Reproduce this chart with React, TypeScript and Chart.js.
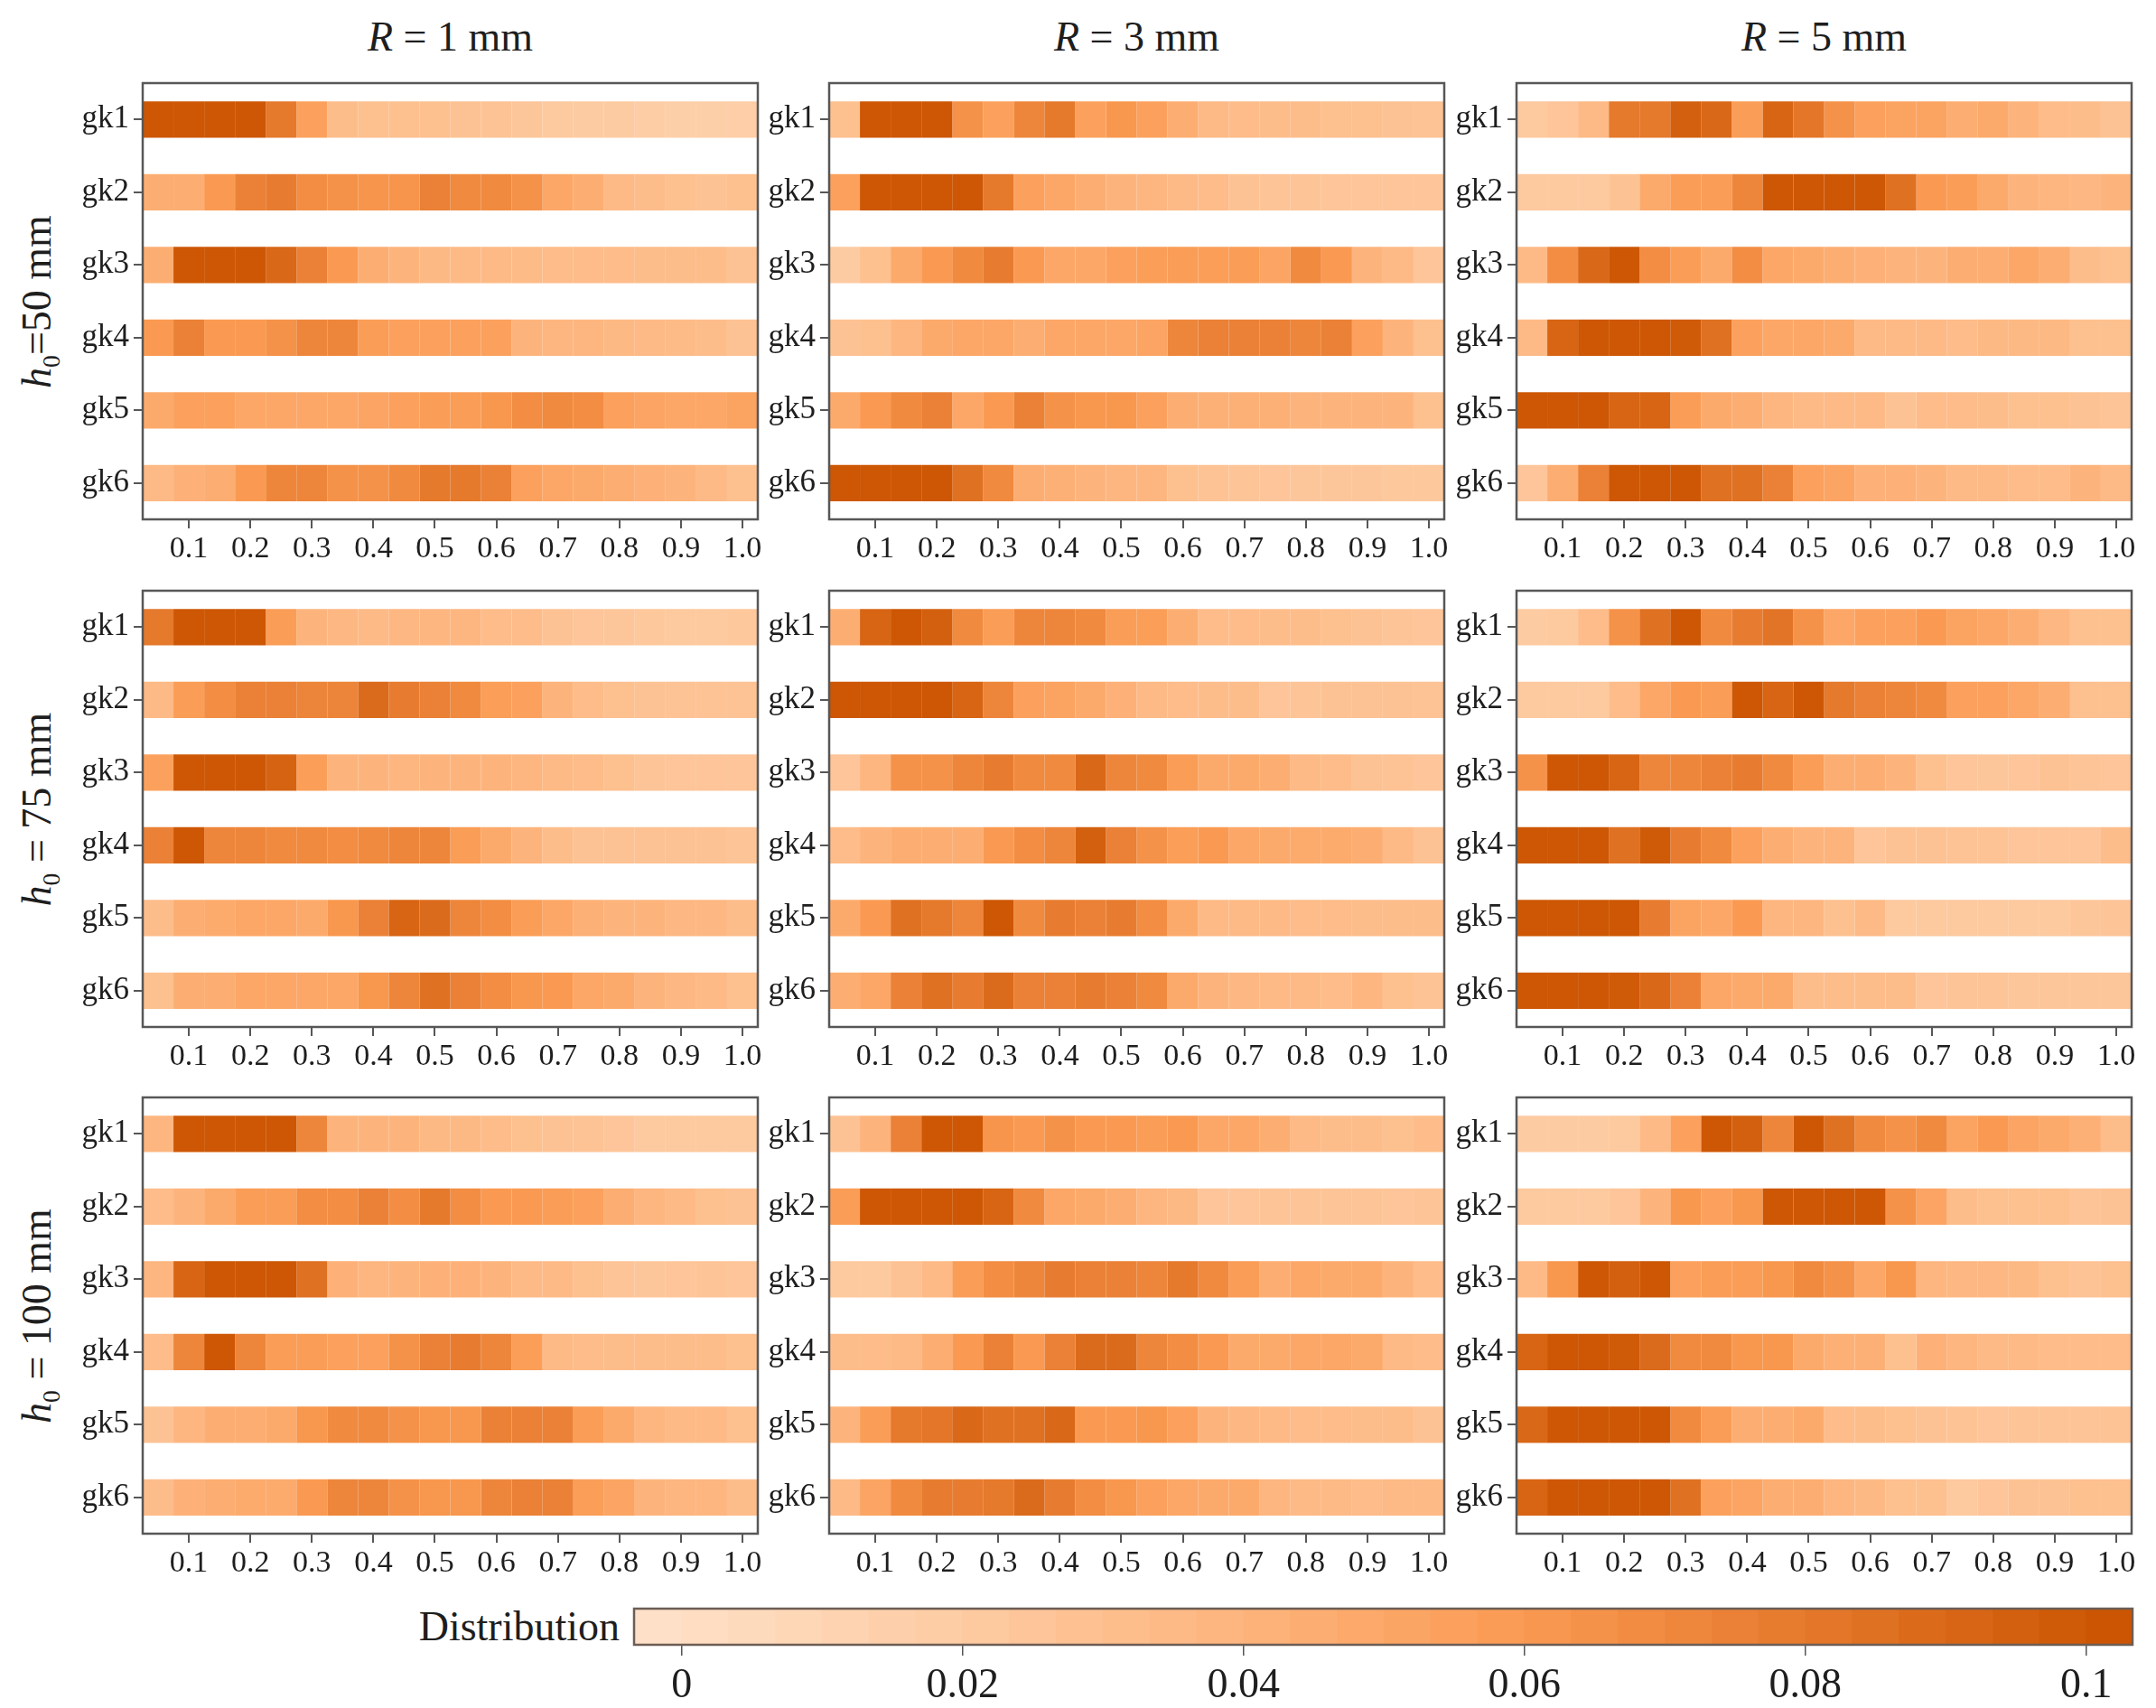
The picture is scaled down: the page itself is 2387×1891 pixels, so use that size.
import { useEffect, useRef } from "react"
import { Chart, registerables, ChartConfiguration, Plugin } from "chart.js"

Chart.register(...registerables)

// bin centres of the normalised position axis
const bins = [0.05, 0.1, 0.15, 0.2, 0.25, 0.3, 0.35, 0.4, 0.45, 0.5, 0.55, 0.6, 0.65, 0.7, 0.75, 0.8, 0.85, 0.9, 0.95, 1.0]
const groups = ["gk1", "gk2", "gk3", "gk4", "gk5", "gk6"]
const xTickLabels = [0.1, 0.2, 0.3, 0.4, 0.5, 0.6, 0.7, 0.8, 0.9, 1.0]
const colorbarTicks = [0, 0.02, 0.04, 0.06, 0.08, 0.1]
const radii = [1, 3, 5]
const heights = [50, 75, 100]

const h50r1 = [
	[0.1, 0.1, 0.1, 0.1, 0.08, 0.055, 0.032, 0.03, 0.03, 0.03, 0.028, 0.027, 0.024, 0.022, 0.02, 0.02, 0.018, 0.016, 0.016, 0.017],
	[0.045, 0.045, 0.06, 0.075, 0.078, 0.068, 0.065, 0.063, 0.063, 0.075, 0.07, 0.07, 0.065, 0.05, 0.045, 0.035, 0.032, 0.03, 0.028, 0.03],
	[0.045, 0.1, 0.1, 0.1, 0.09, 0.075, 0.06, 0.045, 0.04, 0.036, 0.035, 0.035, 0.034, 0.033, 0.033, 0.033, 0.032, 0.032, 0.032, 0.028],
	[0.06, 0.075, 0.06, 0.06, 0.065, 0.072, 0.072, 0.058, 0.055, 0.055, 0.055, 0.055, 0.04, 0.038, 0.038, 0.036, 0.035, 0.034, 0.032, 0.028],
	[0.048, 0.055, 0.055, 0.05, 0.05, 0.05, 0.05, 0.052, 0.055, 0.058, 0.058, 0.062, 0.068, 0.07, 0.068, 0.055, 0.052, 0.05, 0.05, 0.053],
	[0.035, 0.042, 0.045, 0.06, 0.072, 0.072, 0.065, 0.065, 0.07, 0.08, 0.08, 0.075, 0.055, 0.05, 0.048, 0.045, 0.042, 0.04, 0.035, 0.03]
]
const h50r3 = [
	[0.03, 0.1, 0.1, 0.1, 0.065, 0.055, 0.072, 0.08, 0.055, 0.062, 0.055, 0.045, 0.035, 0.033, 0.032, 0.032, 0.03, 0.03, 0.028, 0.027],
	[0.055, 0.1, 0.1, 0.1, 0.1, 0.08, 0.055, 0.05, 0.045, 0.04, 0.038, 0.035, 0.033, 0.028, 0.026, 0.026, 0.025, 0.025, 0.025, 0.025],
	[0.02, 0.03, 0.048, 0.06, 0.07, 0.078, 0.06, 0.05, 0.05, 0.055, 0.057, 0.058, 0.057, 0.058, 0.052, 0.07, 0.06, 0.04, 0.035, 0.025],
	[0.028, 0.03, 0.038, 0.048, 0.05, 0.05, 0.045, 0.05, 0.05, 0.05, 0.052, 0.072, 0.075, 0.075, 0.075, 0.072, 0.075, 0.055, 0.04, 0.03],
	[0.048, 0.06, 0.07, 0.075, 0.05, 0.06, 0.075, 0.065, 0.062, 0.062, 0.055, 0.045, 0.043, 0.043, 0.043, 0.04, 0.04, 0.04, 0.04, 0.03],
	[0.1, 0.1, 0.1, 0.1, 0.085, 0.07, 0.045, 0.043, 0.04, 0.038, 0.038, 0.03, 0.027, 0.026, 0.025, 0.024, 0.024, 0.024, 0.023, 0.023]
]
const h50r5 = [
	[0.022, 0.025, 0.035, 0.08, 0.08, 0.095, 0.09, 0.058, 0.092, 0.082, 0.065, 0.055, 0.053, 0.053, 0.045, 0.048, 0.04, 0.033, 0.032, 0.028],
	[0.022, 0.022, 0.022, 0.028, 0.048, 0.058, 0.058, 0.072, 0.1, 0.1, 0.1, 0.1, 0.085, 0.06, 0.058, 0.048, 0.04, 0.038, 0.037, 0.04],
	[0.035, 0.068, 0.09, 0.1, 0.068, 0.058, 0.048, 0.068, 0.05, 0.048, 0.045, 0.042, 0.04, 0.04, 0.045, 0.045, 0.05, 0.045, 0.032, 0.03],
	[0.035, 0.092, 0.1, 0.1, 0.1, 0.098, 0.085, 0.055, 0.05, 0.05, 0.048, 0.035, 0.035, 0.035, 0.033, 0.036, 0.036, 0.036, 0.03, 0.03],
	[0.1, 0.1, 0.1, 0.092, 0.092, 0.058, 0.048, 0.045, 0.038, 0.035, 0.035, 0.035, 0.028, 0.033, 0.033, 0.032, 0.03, 0.03, 0.028, 0.026],
	[0.025, 0.045, 0.075, 0.1, 0.1, 0.1, 0.085, 0.085, 0.075, 0.055, 0.052, 0.042, 0.042, 0.04, 0.035, 0.035, 0.033, 0.033, 0.04, 0.035]
]
const h75r1 = [
	[0.08, 0.1, 0.1, 0.1, 0.058, 0.04, 0.037, 0.035, 0.037, 0.038, 0.038, 0.033, 0.033, 0.028, 0.025, 0.024, 0.023, 0.022, 0.022, 0.023],
	[0.035, 0.058, 0.068, 0.075, 0.075, 0.073, 0.073, 0.088, 0.078, 0.075, 0.07, 0.057, 0.055, 0.04, 0.033, 0.03, 0.028, 0.027, 0.027, 0.027],
	[0.055, 0.1, 0.1, 0.1, 0.093, 0.057, 0.04, 0.04, 0.038, 0.04, 0.04, 0.04, 0.038, 0.035, 0.033, 0.03, 0.026, 0.025, 0.025, 0.025],
	[0.075, 0.1, 0.072, 0.072, 0.07, 0.07, 0.068, 0.07, 0.072, 0.072, 0.058, 0.048, 0.04, 0.032, 0.028, 0.028, 0.028, 0.028, 0.028, 0.026],
	[0.032, 0.045, 0.047, 0.05, 0.05, 0.048, 0.062, 0.075, 0.092, 0.088, 0.072, 0.068, 0.058, 0.05, 0.043, 0.04, 0.04, 0.037, 0.037, 0.032],
	[0.03, 0.045, 0.045, 0.05, 0.05, 0.05, 0.05, 0.062, 0.072, 0.085, 0.075, 0.068, 0.062, 0.06, 0.05, 0.048, 0.04, 0.037, 0.035, 0.03]
]
const h75r3 = [
	[0.045, 0.092, 0.1, 0.095, 0.07, 0.058, 0.072, 0.072, 0.07, 0.058, 0.057, 0.045, 0.033, 0.033, 0.032, 0.032, 0.03, 0.028, 0.026, 0.025],
	[0.1, 0.1, 0.1, 0.1, 0.092, 0.072, 0.055, 0.053, 0.048, 0.042, 0.035, 0.033, 0.032, 0.032, 0.025, 0.026, 0.028, 0.028, 0.028, 0.027],
	[0.025, 0.038, 0.065, 0.065, 0.072, 0.078, 0.07, 0.07, 0.09, 0.072, 0.07, 0.058, 0.048, 0.048, 0.045, 0.035, 0.033, 0.028, 0.027, 0.025],
	[0.033, 0.04, 0.045, 0.045, 0.045, 0.06, 0.068, 0.072, 0.095, 0.075, 0.065, 0.057, 0.06, 0.05, 0.048, 0.047, 0.047, 0.045, 0.035, 0.028],
	[0.048, 0.06, 0.085, 0.08, 0.072, 0.1, 0.07, 0.078, 0.075, 0.078, 0.068, 0.048, 0.035, 0.035, 0.035, 0.033, 0.033, 0.032, 0.032, 0.032],
	[0.045, 0.05, 0.075, 0.085, 0.078, 0.088, 0.075, 0.075, 0.078, 0.075, 0.07, 0.048, 0.04, 0.037, 0.035, 0.035, 0.033, 0.038, 0.03, 0.027]
]
const h75r5 = [
	[0.02, 0.022, 0.033, 0.065, 0.085, 0.1, 0.07, 0.078, 0.083, 0.065, 0.05, 0.055, 0.055, 0.06, 0.053, 0.05, 0.045, 0.037, 0.03, 0.03],
	[0.022, 0.022, 0.022, 0.033, 0.05, 0.06, 0.058, 0.1, 0.092, 0.1, 0.08, 0.075, 0.072, 0.07, 0.055, 0.055, 0.05, 0.045, 0.03, 0.03],
	[0.065, 0.1, 0.1, 0.092, 0.072, 0.072, 0.075, 0.078, 0.07, 0.058, 0.045, 0.045, 0.04, 0.03, 0.025, 0.024, 0.025, 0.028, 0.026, 0.025],
	[0.1, 0.1, 0.1, 0.085, 0.098, 0.078, 0.07, 0.055, 0.045, 0.04, 0.04, 0.025, 0.028, 0.028, 0.027, 0.027, 0.025, 0.025, 0.025, 0.032],
	[0.1, 0.1, 0.1, 0.1, 0.078, 0.053, 0.05, 0.06, 0.038, 0.038, 0.03, 0.035, 0.022, 0.022, 0.022, 0.022, 0.022, 0.022, 0.024, 0.026],
	[0.1, 0.1, 0.1, 0.098, 0.09, 0.075, 0.05, 0.048, 0.048, 0.032, 0.032, 0.032, 0.032, 0.025, 0.026, 0.026, 0.024, 0.024, 0.024, 0.024]
]
const h100r1 = [
	[0.038, 0.1, 0.1, 0.1, 0.1, 0.072, 0.04, 0.04, 0.04, 0.036, 0.036, 0.033, 0.03, 0.028, 0.027, 0.025, 0.022, 0.022, 0.022, 0.022],
	[0.033, 0.04, 0.048, 0.058, 0.058, 0.068, 0.068, 0.075, 0.068, 0.08, 0.068, 0.06, 0.06, 0.058, 0.055, 0.045, 0.038, 0.035, 0.03, 0.028],
	[0.038, 0.092, 0.1, 0.1, 0.1, 0.085, 0.042, 0.038, 0.04, 0.042, 0.042, 0.04, 0.035, 0.035, 0.03, 0.026, 0.024, 0.025, 0.026, 0.025],
	[0.033, 0.072, 0.1, 0.072, 0.058, 0.058, 0.055, 0.055, 0.065, 0.075, 0.078, 0.072, 0.057, 0.035, 0.033, 0.032, 0.032, 0.032, 0.032, 0.03],
	[0.028, 0.038, 0.045, 0.045, 0.048, 0.062, 0.07, 0.07, 0.065, 0.062, 0.062, 0.075, 0.075, 0.075, 0.058, 0.048, 0.038, 0.035, 0.035, 0.03],
	[0.032, 0.042, 0.045, 0.047, 0.047, 0.06, 0.072, 0.072, 0.065, 0.062, 0.062, 0.072, 0.075, 0.075, 0.057, 0.052, 0.04, 0.038, 0.038, 0.032]
]
const h100r3 = [
	[0.028, 0.04, 0.075, 0.1, 0.1, 0.063, 0.06, 0.065, 0.06, 0.06, 0.058, 0.06, 0.05, 0.05, 0.045, 0.035, 0.032, 0.032, 0.03, 0.033],
	[0.058, 0.1, 0.1, 0.1, 0.1, 0.092, 0.07, 0.05, 0.048, 0.045, 0.038, 0.036, 0.025, 0.025, 0.026, 0.026, 0.026, 0.026, 0.025, 0.026],
	[0.022, 0.022, 0.028, 0.035, 0.058, 0.068, 0.072, 0.078, 0.075, 0.075, 0.072, 0.08, 0.07, 0.058, 0.045, 0.05, 0.048, 0.048, 0.04, 0.033],
	[0.032, 0.033, 0.035, 0.045, 0.06, 0.075, 0.06, 0.075, 0.088, 0.088, 0.072, 0.068, 0.06, 0.048, 0.048, 0.05, 0.05, 0.048, 0.035, 0.033],
	[0.04, 0.058, 0.08, 0.082, 0.09, 0.085, 0.085, 0.09, 0.06, 0.06, 0.062, 0.055, 0.04, 0.037, 0.035, 0.033, 0.033, 0.032, 0.032, 0.028],
	[0.035, 0.052, 0.07, 0.078, 0.078, 0.08, 0.088, 0.078, 0.068, 0.062, 0.055, 0.05, 0.048, 0.048, 0.038, 0.035, 0.035, 0.033, 0.035, 0.035]
]
const h100r5 = [
	[0.02, 0.02, 0.02, 0.022, 0.035, 0.055, 0.1, 0.095, 0.072, 0.1, 0.085, 0.07, 0.065, 0.07, 0.053, 0.06, 0.052, 0.048, 0.043, 0.032],
	[0.022, 0.022, 0.022, 0.025, 0.04, 0.062, 0.055, 0.062, 0.1, 0.1, 0.1, 0.1, 0.065, 0.052, 0.032, 0.03, 0.03, 0.03, 0.026, 0.028],
	[0.035, 0.062, 0.1, 0.095, 0.1, 0.055, 0.058, 0.058, 0.062, 0.07, 0.065, 0.05, 0.062, 0.038, 0.037, 0.037, 0.036, 0.03, 0.027, 0.03],
	[0.092, 0.1, 0.1, 0.098, 0.088, 0.07, 0.07, 0.062, 0.062, 0.048, 0.043, 0.043, 0.03, 0.042, 0.038, 0.035, 0.035, 0.033, 0.033, 0.033],
	[0.09, 0.1, 0.1, 0.1, 0.1, 0.07, 0.058, 0.045, 0.045, 0.048, 0.033, 0.032, 0.03, 0.028, 0.027, 0.025, 0.026, 0.026, 0.026, 0.027],
	[0.092, 0.1, 0.1, 0.1, 0.1, 0.085, 0.055, 0.052, 0.045, 0.045, 0.038, 0.036, 0.03, 0.03, 0.022, 0.025, 0.028, 0.028, 0.03, 0.03]
]

const panelRows = [
	[h50r1, h50r3, h50r5],
	[h75r1, h75r3, h75r5],
	[h100r1, h100r3, h100r5]
]

const FONT = "'Liberation Serif', 'Times New Roman', serif"
const INK = "#1e1e1e"
const FRAME = "#575757"

// colour scale (value -> rgb), light peach to burnt orange
const stops: [number, number[]][] = [
	[-0.0034, [254, 226, 203]],
	[0.02, [253, 203, 162]],
	[0.04, [253, 180, 124]],
	[0.06, [250, 154, 82]],
	[0.08, [229, 121, 44]],
	[0.1, [205, 87, 4]],
	[0.1033, [200, 82, 0]]
]

function colorFor(v: number) {
	if (v <= stops[0][0]) return `rgb(${stops[0][1].join(",")})`
	for (let i = 1; i < stops.length; i++) {
		if (v <= stops[i][0]) {
			const [a, ca] = stops[i - 1]
			const [b, cb] = stops[i]
			const t = (v - a) / (b - a)
			const c = ca.map((x, k) => Math.round(x + (cb[k] - x) * t))
			return `rgb(${c.join(",")})`
		}
	}
	return `rgb(${stops[stops.length - 1][1].join(",")})`
}

const framePlugin: Plugin = {
	id: "frame",
	afterDraw(chart) {
		const { ctx, chartArea: a } = chart
		ctx.save()
		ctx.strokeStyle = (chart.options.plugins as any).frame?.color ?? FRAME
		ctx.lineWidth = 2.5
		ctx.strokeRect(a.left, a.top, a.right - a.left, a.bottom - a.top)
		ctx.restore()
	}
}

// geometry of the 3x3 grid of plot areas
const colLeft = [158, 918, 1679]
const rowTop = [92, 654, 1215]
const plotW = 681
const plotH = 483
const yAxisW = 80
const xAxisH = 60
const padTop = 4
const padRight = 8

function Panel({ rows, left, top }: { rows: number[][]; left: number; top: number }) {
	const canvasRef = useRef<HTMLCanvasElement>(null)

	useEffect(() => {
		const ctx = canvasRef.current?.getContext("2d") as CanvasRenderingContext2D
		const half = 0.025
		const config: ChartConfiguration = {
			type: "bar",
			data: {
				labels: groups,
				datasets: bins.map((c, j) => ({
					label: String(c),
					data: groups.map(() => [c - half, c + half]) as any,
					backgroundColor: rows.map((r) => colorFor(r[j])),
					borderWidth: 0,
					grouped: false,
					barPercentage: 0.5,
					categoryPercentage: 1
				}))
			},
			options: {
				indexAxis: "y",
				animation: false,
				responsive: false,
				layout: { padding: { top: padTop, right: padRight, left: 0, bottom: 0 } },
				plugins: {
					legend: { display: false },
					tooltip: { enabled: false }
				},
				scales: {
					x: {
						type: "linear",
						min: 0.025,
						max: 1.025,
						afterBuildTicks(scale) {
							scale.ticks = xTickLabels.map((v) => ({ value: v }))
						},
						afterFit(scale: any) {
							scale.height = xAxisH
							scale.paddingLeft = 0
							scale.paddingRight = 0
						},
						ticks: {
							autoSkip: false,
							maxRotation: 0,
							padding: 3,
							color: INK,
							font: { family: FONT, size: 34 },
							callback(v) {
								return Number(v).toFixed(1)
							}
						},
						grid: { drawOnChartArea: false, drawTicks: true, tickLength: 10, color: FRAME, lineWidth: 2 },
						border: { display: false }
					},
					y: {
						type: "category",
						offset: true,
						afterFit(scale: any) {
							scale.width = yAxisW
							scale.paddingTop = 0
							scale.paddingBottom = 0
						},
						ticks: {
							padding: 5,
							color: INK,
							font: { family: FONT, size: 35 }
						},
						grid: { offset: false, drawOnChartArea: false, drawTicks: true, tickLength: 10, color: FRAME, lineWidth: 2 },
						border: { display: false }
					}
				}
			},
			plugins: [framePlugin]
		}
		const chart = new Chart(ctx, config)
		return () => {
			chart.destroy()
		}
	}, [rows])

	const w = yAxisW + plotW + padRight
	const h = padTop + plotH + xAxisH
	return (
		<canvas
			ref={canvasRef}
			width={w}
			height={h}
			style={{ position: "absolute", left: left - yAxisW, top: top - padTop, width: w, height: h }}
		/>
	)
}

// colour bar geometry
const cbLeft = 702
const cbTop = 1781
const cbW = 1659
const cbH = 40
const cbMin = -0.0034
const cbMax = 0.1033
const cbSteps = 32

function ColorBar() {
	const canvasRef = useRef<HTMLCanvasElement>(null)

	useEffect(() => {
		const ctx = canvasRef.current?.getContext("2d") as CanvasRenderingContext2D
		const step = (cbMax - cbMin) / cbSteps
		const config: ChartConfiguration = {
			type: "bar",
			data: {
				labels: ["Distribution"],
				datasets: Array.from({ length: cbSteps }, (_, i) => {
					const lo = cbMin + i * step
					return {
						label: String(i),
						data: [[lo, lo + step]] as any,
						backgroundColor: colorFor(lo + step / 2),
						borderWidth: 0,
						grouped: false,
						barPercentage: 1,
						categoryPercentage: 1
					}
				})
			},
			options: {
				indexAxis: "y",
				animation: false,
				responsive: false,
				layout: { padding: { top: 4, right: 12, left: 12, bottom: 0 } },
				plugins: {
					legend: { display: false },
					tooltip: { enabled: false },
					frame: { color: "#6d5d54" }
				} as any,
				scales: {
					x: {
						type: "linear",
						min: cbMin,
						max: cbMax,
						afterBuildTicks(scale) {
							scale.ticks = colorbarTicks.map((v) => ({ value: v }))
						},
						afterFit(scale: any) {
							scale.height = 100
							scale.paddingLeft = 0
							scale.paddingRight = 0
						},
						ticks: {
							autoSkip: false,
							maxRotation: 0,
							padding: 6,
							color: INK,
							font: { family: FONT, size: 46 },
							callback(v) {
								return String(Number(v))
							}
						},
						grid: { drawOnChartArea: false, drawTicks: true, tickLength: 12, color: "#555", lineWidth: 1.5 },
						border: { display: false }
					},
					y: { type: "category", display: false }
				}
			},
			plugins: [framePlugin]
		}
		const chart = new Chart(ctx, config)
		return () => {
			chart.destroy()
		}
	}, [])

	const w = cbW + 24
	const h = 4 + cbH + 100
	return (
		<canvas
			ref={canvasRef}
			width={w}
			height={h}
			style={{ position: "absolute", left: cbLeft - 12, top: cbTop - 4, width: w, height: h }}
		/>
	)
}

export default function App() {
	return (
		<div
			style={{
				position: "absolute",
				left: 0,
				top: 0,
				width: 2387,
				height: 1891,
				background: "#fff",
				fontFamily: FONT,
				color: INK,
				overflow: "hidden"
			}}
		>
			{radii.map((r, c) => (
				<div
					key={"t" + r}
					style={{
						position: "absolute",
						left: colLeft[c] + plotW / 2,
						top: 41,
						transform: "translate(-50%, -50%)",
						fontSize: 46,
						whiteSpace: "nowrap",
						lineHeight: 1
					}}
				>
					<i>R</i> = {r} mm
				</div>
			))}
			{heights.map((h0, r) => (
				<div
					key={"h" + h0}
					style={{
						position: "absolute",
						left: 44,
						top: rowTop[r] + plotH / 2,
						transform: "translate(-50%, -50%) rotate(-90deg)",
						fontSize: 46,
						whiteSpace: "nowrap",
						lineHeight: 1
					}}
				>
					<i>h</i>
					<sub style={{ fontSize: "0.6em" }}>0</sub>
					{r === 0 ? "=" : " = "}
					{h0} mm
				</div>
			))}
			{panelRows.map((row, r) =>
				row.map((rows, c) => <Panel key={r + "-" + c} rows={rows} left={colLeft[c]} top={rowTop[r]} />)
			)}
			<div
				style={{
					position: "absolute",
					right: 2387 - 686,
					top: cbTop + cbH / 2,
					transform: "translateY(-50%)",
					fontSize: 46,
					whiteSpace: "nowrap",
					lineHeight: 1
				}}
			>
				Distribution
			</div>
			<ColorBar />
		</div>
	)
}
